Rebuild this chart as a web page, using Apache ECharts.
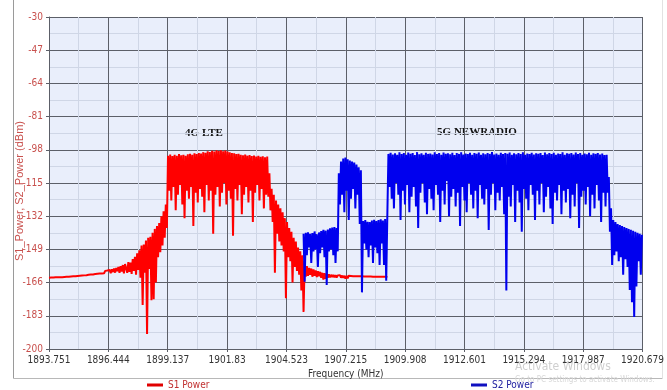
<!DOCTYPE html>
<html><head><meta charset="utf-8">
<script src="https://cdn.jsdelivr.net/npm/echarts@6/dist/echarts.min.js"></script>
<style>html,body{margin:0;padding:0;background:#fff;}#c{width:667px;height:390px;}</style>
</head><body><div id="c"></div>
<script>
// ---- axis ticks ----
const xTickLabels = ['1893.751','1896.444','1899.137','1901.83','1904.523','1907.215','1909.908','1912.601','1915.294','1917.987','1920.679'];
const yTickLabels = ['-200','-183','-166','-149','-132','-115','-98','-81','-64','-47','-30'];
const xAxisStart = 1893.751, xAxisStep = 2.6928;
const yAxisStart = -200, yAxisStep = 17;

// ---- S1 Power (4G LTE): sweep points every 0.05 MHz starting at 1893.75 MHz ----
const s1StartMHz = 1893.75, s1StepMHz = 0.05;
const s1LowerTail = [
 -163.5,-163.0,-163.4,-162.9,-163.4,-162.9,-163.3,-162.8,-163.3,-162.8,
 -163.2,-162.7,-163.2,-162.6,-163.1,-162.6,-163.0,-162.5,-163.0,-162.4,
 -162.9,-162.3,-162.8,-162.2,-162.8,-162.1,-162.6,-162.0,-162.5,-161.9,
 -162.4,-161.8,-162.3,-161.6,-162.2,-161.5,-162.0,-161.4,-161.9,-161.2,
 -161.8,-161.0,-161.6,-160.8,-161.5,-160.7,-161.4,-160.5,-161.3,-160.3,
 -161.2,-160.0,-161.0,-159.8,-160.8,-159.5,-161.2,-159.2,-160.6,-158.8,
 -160.9,-158.5,-160.2,-158.0,-161.0,-157.6,-160.4,-157.0,-161.3,-156.5
];
const s1RisingSkirt = [
 -156.5,-161.0,-155.5,-160.5,-155.8,-161.5,-154.0,-160.0,-152.8,-162.0,
 -151.0,-159.5,-149.5,-163.5,-147.0,-177.5,-146.5,-161.0,-144.5,-192.3,
 -143.0,-159.0,-142.5,-175.0,-140.5,-174.5,-138.5,-166.0,-137.0,-153.0,
 -135.5,-150.5,-132.0,-147.0,-129.5,-143.0,-126.0,-138.0
];
const s1Band = [
 -101.0,-119,-100.4,-124,-101.2,-117,-100.6,-129,-101.0,-121,
 -100.2,-116,-100.8,-126,-100.5,-133,-101.1,-119,-100.3,-123,
 -100.0,-117,-100.6,-137,-99.8,-120,-100.2,-125,-99.6,-118,
 -99.9,-122,-99.2,-130,-99.5,-116,-98.8,-124,-99.1,-119,
 -98.5,-141,-98.9,-121,-98.2,-117,-98.6,-127,-98.3,-120,
 -98.7,-115,-98.4,-126,-98.9,-119,-99.3,-123,-99.6,-142,
 -99.8,-118,-100.2,-124,-100.0,-116,-100.5,-131,-100.8,-121,
 -100.4,-117,-101.0,-125,-100.7,-119,-101.2,-135,-100.9,-120,
 -101.4,-116,-101.1,-124,-101.6,-118,-101.3,-128,-101.8,-121,
 -101.5
];
const s1FallingSkirt = [
 -122,-110,-129,-118,-135,-121,-161,-124,-141,-126,
 -145,-128,-147,-130,-150,-133,-174,-135,-153,-138,
 -155,-140,-166,-143,-158,-145,-160,-148,-162,-150,
 -170,-152,-181,-155,-163
];
const s1UpperTail = [
 -157.5,-162.5,-158.5,-162.0,-158.8,-163.0,-159.3,-162.5,-159.8,-163.2,
 -160.2,-162.8,-160.5,-163.5,-161.0,-164.5,-161.2,-164.0,-161.5,-163.5,
 -161.8,-163.3,
 -162.0,-163.2,-162.1,-163.3,-162.2,-163.4,-162.3,-163.2,-162.2,-163.5,
 -162.4,-163.6,-162.5,-164.0,-162.6,-163.8,-162.5,-163.4,-162.6,-163.5,
 -162.7,-163.6,-162.7,-163.5,-162.8,-163.6,-162.8,-163.5,-162.8,-163.6,
 -162.9,-163.6,-162.9,-163.5,-162.9,-163.6,-162.9,-163.5,-163.0,-163.6,
 -163.0,-163.5,-163.0,-163.6,-163.0,-163.5,-163.0,-163.6,-163.0,-163.5,-163.0,-163.4
];

// ---- S2 Power (5G NR): sweep points every 0.05 MHz starting at 1905.30 MHz ----
const s2StartMHz = 1905.30, s2StepMHz = 0.05;
const s2LowerShelf = [
 -141.0,-165.5,-140.5,-152,-140.2,-148,-141.0,-156,-140.6,-150,
 -139.8,-149,-141.2,-158,-140.3,-151,-139.6,-148,-139.0,-153,
 -139.4,-167.2,-138.8,-150,-138.2,-149,-137.8,-152,-137.5,-156,
 -138.0,-150
];
const s2Peak = [
 -110,-126,-104,-121,-102.5,-130,-102.0,-119,-102.8,-134,
 -103.5,-123,-104.0,-118,-104.5,-128,-105.5,-121,-107.0,-136,
 -108.5,-171
];
const s2Valley = [
 -134.5,-146,-134.0,-149,-134.8,-153,-135.0,-147,-134.2,-156,
 -133.8,-148,-134.5,-151,-134.0,-157,-133.6,-146,-134.2,-157,
 -133.5,-165,-132
];
const s2Band = [
 -100.1,-117,-99.5,-123,-100.4,-128,-99.8,-115,-100.6,-121,-99.3,-134,-100.2,-119,-99.7,-126,-100.5,-116,-99.4,-130,
 -100.0,-122,-99.6,-117,-100.7,-127,-99.2,-138,-100.3,-120,-99.8,-115,-100.5,-125,-99.5,-131,-100.1,-118,-99.9,-123,
 -100.4,-129,-99.3,-116,-100.2,-121,-99.7,-135,-100.6,-119,-99.4,-126,-100.0,-114,-99.8,-132,-100.3,-122,-99.5,-118,
 -100.7,-127,-99.6,-120,-100.1,-137,-99.3,-117,-100.4,-124,-99.9,-130,-100.2,-115,-99.5,-121,-100.6,-128,-99.7,-119,
 -100.0,-133,-99.4,-116,-100.5,-123,-99.8,-126,-100.3,-118,-99.6,-139,-100.1,-121,-99.2,-115,-100.4,-129,-99.9,-120,
 -100.6,-124,-99.5,-117,-100.2,-131,-99.7,-170,-100.0,-122,-99.4,-127,-100.5,-116,-99.8,-135,-100.3,-119,-99.6,-125,
 -100.1,-140,-99.3,-118,-100.6,-123,-99.9,-129,-100.2,-116,-99.5,-121,-100.4,-134,-99.8,-119,-100.0,-126,-99.6,-115,
 -100.7,-130,-99.4,-122,-100.3,-117,-99.7,-128,-100.1,-136,-99.5,-120,-100.5,-124,-99.9,-116,-100.2,-131,-99.3,-119,
 -100.6,-125,-99.8,-118,-100.0,-133,-99.6,-121,-100.4,-127,-99.4,-115,-100.2,-138,-99.7,-122,-100.5,-119,-99.9,-126,
 -100.3,-117,-99.5,-132,-100.6,-121,-99.8,-128,-100.1,-116,-99.6,-124,-100.4,-135,-99.9,-120,-100.7,-127,
 -100.5
];
const s2UpperShelf = [
 -120,-112,-140,-128,-157,-134,-152,-135,-150,-136,
 -155,-136.5,-153,-137,-162,-137.5,-154,-138,-158,-138.5,
 -169.8,-139,-176,-139.5,-183.6,-140,-168,-140.5,-155,-141,
 -162,-141.5
];

const s1Power = [].concat(s1LowerTail, s1RisingSkirt, s1Band, s1FallingSkirt, s1UpperTail);
const s2Power = [].concat(s2LowerShelf, s2Peak, s2Valley, s2Band, s2UpperShelf);

const NARROW = "'Liberation Sans Narrow','DejaVu Sans Condensed','Liberation Sans',Arial,sans-serif";
const toPts = (start, step, arr) => arr.map((v, i) => [start + i * step - xAxisStart, v - yAxisStart]);

const chart = echarts.init(document.getElementById('c'), null, {renderer: 'canvas'});
chart.setOption({
  animation: false,
  backgroundColor: '#ffffff',
  grid: {left: 49, top: 17, right: 24, bottom: 41, show: true, backgroundColor: '#e9eefb', borderWidth: 0},
  xAxis: {
    type: 'value', min: 0, max: 10 * xAxisStep, interval: xAxisStep,
    axisLine: {show: true, onZero: false, lineStyle: {color: '#5c5f68', width: 1}},
    axisTick: {show: true, length: 3, lineStyle: {color: '#5c5f68'}},
    axisLabel: {formatter: v => xTickLabels[Math.round(v / xAxisStep)], color: '#333', fontSize: 10, fontFamily: NARROW, margin: 6, showMaxLabel: true, showMinLabel: true},
    splitLine: {show: true, lineStyle: {color: '#5c5f68', width: 1}},
    minorTick: {show: false, splitNumber: 2},
    minorSplitLine: {show: true, lineStyle: {color: '#cfd6e6', width: 1}},
    name: 'Frequency (MHz)', nameLocation: 'middle', nameGap: 19,
    nameTextStyle: {color: '#333', fontSize: 10, fontFamily: NARROW}
  },
  yAxis: {
    type: 'value', min: 0, max: 10 * yAxisStep, interval: yAxisStep,
    axisLine: {show: true, onZero: false, lineStyle: {color: '#5c5f68', width: 1}},
    axisTick: {show: true, length: 3, lineStyle: {color: '#5c5f68'}},
    axisLabel: {formatter: v => yTickLabels[Math.round(v / yAxisStep)], color: '#c8504d', fontSize: 10, fontFamily: NARROW, margin: 6},
    splitLine: {show: true, lineStyle: {color: '#5c5f68', width: 1}},
    minorTick: {show: false, splitNumber: 2},
    minorSplitLine: {show: true, lineStyle: {color: '#cfd6e6', width: 1}}
  },
  legend: [
    {left: 147, top: 380, padding: 0, icon: 'rect', itemWidth: 16, itemHeight: 3, itemGap: 5,
     data: [{name: 'S1 Power', textStyle: {color: '#c03030'}}], textStyle: {fontSize: 10, fontFamily: NARROW}},
    {left: 471, top: 380, padding: 0, icon: 'rect', itemWidth: 16, itemHeight: 3, itemGap: 5,
     data: [{name: 'S2 Power', textStyle: {color: '#2020a0'}}], textStyle: {fontSize: 10, fontFamily: NARROW}}
  ],
  series: [
    {name: 'S1 Power', type: 'line', data: toPts(s1StartMHz, s1StepMHz, s1Power), showSymbol: false, symbol: 'none',
     sampling: null, lineStyle: {color: '#ff0000', width: 2, join: 'bevel'}, itemStyle: {color: '#e00000'}},
    {name: 'S2 Power', type: 'line', data: toPts(s2StartMHz, s2StepMHz, s2Power), showSymbol: false, symbol: 'none',
     sampling: null, lineStyle: {color: '#0000ee', width: 2, join: 'bevel'}, itemStyle: {color: '#1010c0'}}
  ],
  graphic: [
    {type: 'line', shape: {x1: 13.5, y1: 0, x2: 13.5, y2: 378.5}, style: {stroke: '#9a9a9a', lineWidth: 1}},
    {type: 'line', shape: {x1: 13.5, y1: 378.5, x2: 662.5, y2: 378.5}, style: {stroke: '#b8b8b8', lineWidth: 1}},
    {type: 'line', shape: {x1: 662.5, y1: 0, x2: 662.5, y2: 378.5}, style: {stroke: '#e2e2e2', lineWidth: 1}},
    {type: 'text', x: 20, y: 191, rotation: Math.PI / 2,
     style: {text: 'S1_Power, S2_Power (dBm)', fill: '#c8504d', font: "11px 'Liberation Sans', Arial, sans-serif", align: 'center', verticalAlign: 'middle'}},
    {type: 'text', x: 204, y: 133, style: {text: '4G LTE', fill: '#111', font: "bold 11px 'Liberation Serif', 'Times New Roman', serif", align: 'center', verticalAlign: 'middle'}},
    {type: 'text', x: 477, y: 132, style: {text: '5G NEWRADIO', fill: '#111', font: "bold 11px 'Liberation Serif', 'Times New Roman', serif", align: 'center', verticalAlign: 'middle'}},
    {type: 'text', x: 515, y: 367, style: {text: 'Activate Windows', fill: '#cfcfcf', font: "12px " + NARROW, verticalAlign: 'middle'}},
    {type: 'text', x: 515, y: 380, style: {text: 'Go to PC settings to activate Windows.', fill: '#d8d8d8', font: "8px " + NARROW, verticalAlign: 'middle'}}
  ]
});
</script>
</body></html>
